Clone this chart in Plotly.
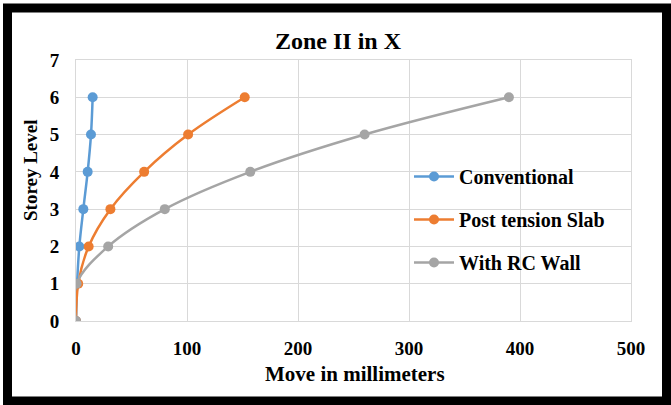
import plotly.graph_objects as go

levels = [0, 1, 2, 3, 4, 5, 6]
conventional = [0, 1, 3, 6.6, 10.5, 13.5, 15]
post_tension = [0, 2, 11.4, 31, 61.4, 101, 152]
rc_wall = [0, 0.5, 29, 80, 157, 260, 390]

series = [
    ("Conventional", conventional, "#5B9BD5"),
    ("Post tension Slab", post_tension, "#ED7D31"),
    ("With RC Wall", rc_wall, "#A5A5A5"),
]

W, H = 671, 405
L, R, T, B = 76, 40, 60, 84
pw, ph = W - L - R, H - T - B

def px(x):
    return (x - L) / pw

def py(y):
    return (H - B - y) / ph

FONT = "Liberation Serif, Times New Roman, serif"

def f(size):
    return dict(size=size, family=FONT, color="black", weight="bold")

fig = go.Figure()
for name, vals, color in series:
    fig.add_trace(go.Scatter(
        x=vals, y=levels, name=name, legendgroup=name,
        mode="lines+markers", line=dict(color=color, width=2.5, shape="spline"),
        marker=dict(color=color, size=10),
    ))

fig.update_layout(
    width=W, height=H,
    margin=dict(l=L, r=R, t=T, b=B),
    paper_bgcolor="white", plot_bgcolor="white",
    font=f(19),
    title=dict(text="Zone II in X", x=338 / W, xanchor="center",
               y=1 - 41 / H, yanchor="middle", font=f(24)),
    showlegend=True,
    legend=dict(x=px(409), y=py(157), xanchor="left", yanchor="top",
                bgcolor="rgba(0,0,0,0)", font=f(20),
                tracegroupgap=14, traceorder="grouped", itemwidth=40),
    xaxis=dict(range=[0, 500], dtick=100, showgrid=True, gridcolor="#d9d9d9", gridwidth=1,
               zeroline=False, showline=True, mirror=True, linecolor="#d9d9d9",
               tickfont=f(19), ticklabelstandoff=10, fixedrange=True),
    yaxis=dict(range=[0, 7], dtick=1, showgrid=True, gridcolor="#d9d9d9", gridwidth=1,
               zeroline=False, showline=True, mirror=True, linecolor="#d9d9d9",
               tickfont=f(19), ticklabelstandoff=12, fixedrange=True),
    annotations=[
        dict(text="Move in millimeters", xref="paper", yref="paper",
             x=px(354.5), y=py(374), xanchor="center", yanchor="middle", showarrow=False,
             font=f(21)),
        dict(text="Storey Level", xref="paper", yref="paper",
             x=px(30), y=py(170), xanchor="center", yanchor="middle", showarrow=False,
             textangle=-90, font=f(19)),
    ],
    shapes=[
        dict(type="rect", xref="paper", yref="paper",
             x0=px(7.5), x1=px(666.5), y0=py(401), y1=py(8),
             line=dict(color="black", width=9), fillcolor="rgba(0,0,0,0)", layer="above"),
    ],
)

fig.write_html("out.html", config={"displayModeBar": False})
